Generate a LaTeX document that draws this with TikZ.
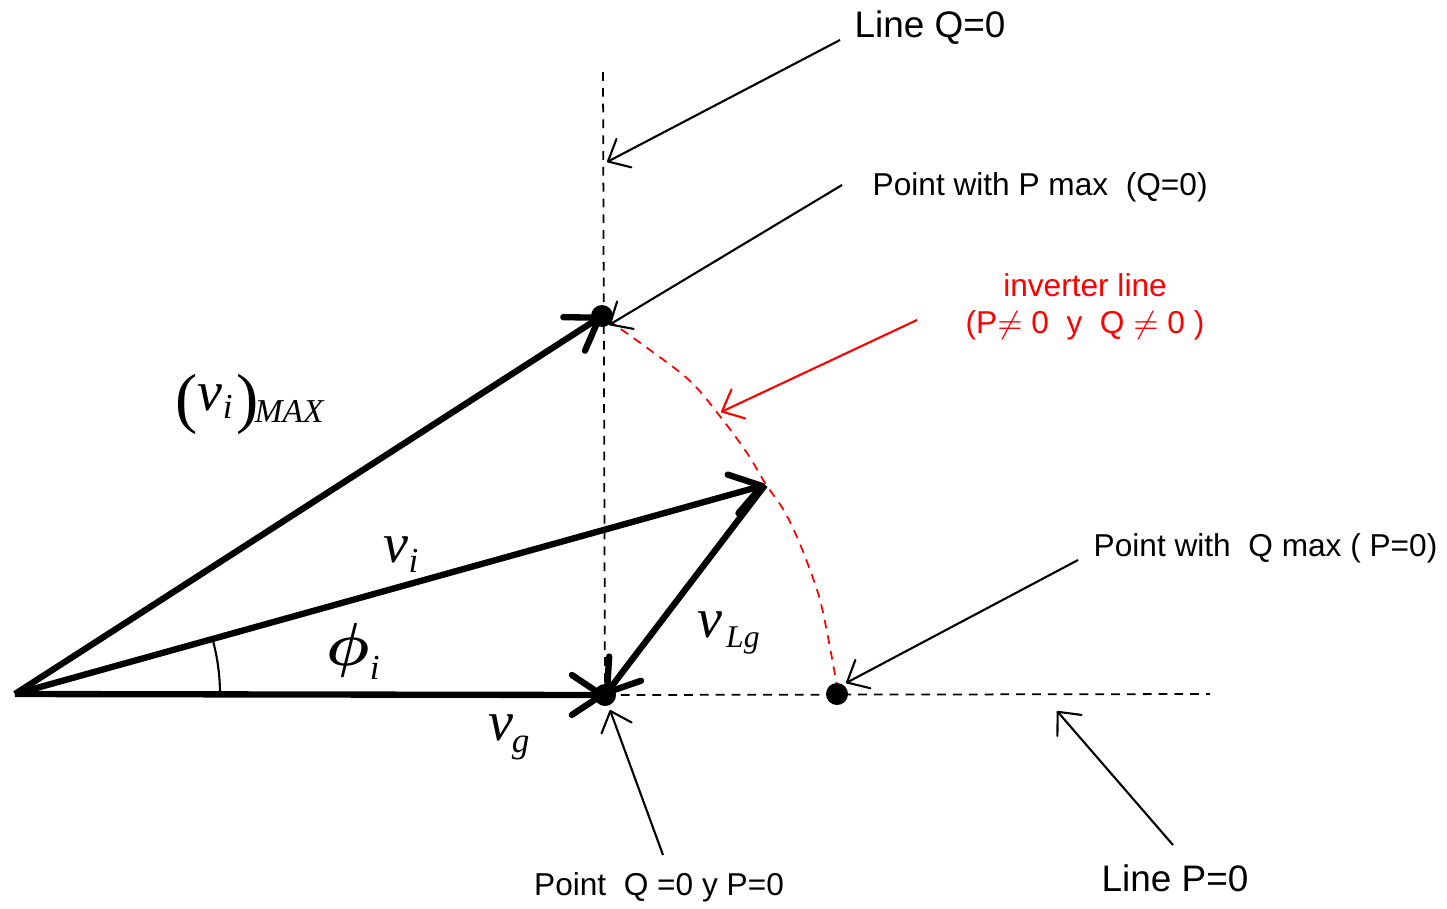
\documentclass[tikz,border=0pt]{standalone}
\usepackage{amsmath}
\usepackage{amssymb}
\usepackage{fontspec}
\setmainfont{Liberation Sans}
\newfontfamily\tms{Liberation Serif}
\usetikzlibrary{arrows.meta,calc}

\newcommand{\lowsub}[3][10]{\raisebox{#2}{\fontsize{#1}{11}\selectfont #3}}

\begin{document}
\begin{tikzpicture}[scale = 1]
	\tikzset{dot/.style = {shape=circle, fill=black, inner sep=0pt, minimum size=0.22cm},
		vec/.style = {line width=1.8pt, -{Straight Barb[length=0.3cm, width=0.4cm, round]}},
		ptr/.style = {line width=0.6pt, -{Straight Barb[length=0.18cm, width=0.32cm, round]}},
		guide/.style = {line width=0.5pt, dash pattern=on 2.5pt off 2pt},
		lbl/.style = {font=\fontsize{9}{11}\selectfont, inner sep=0pt},
		big/.style = {font=\fontsize{10.5}{12}\selectfont, inner sep=0pt},
		sym/.style = {font=\tms\itshape\fontsize{16}{18}\selectfont, inner sep=0pt, anchor=base west}}
	\useasboundingbox (0,0) rectangle (14.47,9.08);
	% main points
	\coordinate (o) at (0.15,2.14);
	\coordinate (g) at (6.05,2.13);
	\coordinate (pm) at (6.02,5.92);
	\coordinate (vi) at (7.65,4.23);
	\coordinate (qm) at (8.37,2.14);
	\coordinate (qtop) at (6.03,8.36);
	\coordinate (pend) at (12.10,2.14);
	% guide lines
	\draw[guide] (qtop) -- (g);
	\draw[guide] (g) -- (pend);
	\draw[guide, red] plot[smooth, tension=0.6] coordinates {(6.08,5.88) (6.50,5.58) (6.90,5.27) (7.19,4.93) (7.47,4.55) (7.65,4.25) (7.83,3.99) (7.97,3.71) (8.10,3.38) (8.20,3.08) (8.28,2.71) (8.37,2.22)};
	% vectors
	\draw[vec] (o) -- (pm);
	\draw[vec] (o) -- (vi);
	\draw[vec] (o) -- (g);
	\draw[vec] (vi) -- (g);
	\draw[line width=0.6pt] (o) ++(2.05,0) arc[start angle=0, end angle=15.6, radius=2.05];
	\foreach \p in {pm, g, qm}{
		\node[dot] (d\p) at (\p) {};
	}
	% vector labels
	\node[sym] (vmax) at (1.75,4.98) {\raisebox{-3pt}{\fontsize{19}{22}\selectfont\upshape(}v\lowsub{-2.5pt}{i}\kern1pt\raisebox{-3pt}{\fontsize{19}{22}\selectfont\upshape)}\kern-1pt\lowsub[9.5]{-3.5pt}{MAX}};
	\node[sym] (vil) at (3.83,3.46) {v\lowsub{-3pt}{i}};
	\node[sym, anchor=center, font=\tms\itshape\fontsize{18}{20}\selectfont] (phil) at (3.53,2.57) {$\boldsymbol{\phi}$\lowsub{-4pt}{i}};
	\node[sym] (vgl) at (4.88,1.68) {v\kern-0.5pt\lowsub{-3.5pt}{g}};
	\node[sym] (vlgl) at (6.97,2.71) {v\kern1pt\lowsub[9]{-3pt}{Lg}};
	% text labels
	\node[big] (lq) at (9.30,8.80) {Line Q=0};
	\node[lbl, anchor=west] (lpmax) at (8.72,7.21) {Point with P max\ \ (Q=0)};
	\node[lbl, red] (linv) at (10.85,6.23) {inverter line};
	\node[lbl, red] (linv2) at (10.85,5.83) {(P$\neq$ 0\ \ y\ \ Q $\neq$ 0 )};
	\node[lbl, anchor=west] (lqmax) at (10.93,3.60) {Point with\ \ Q max ( P=0)};
	\node[big] (lp) at (11.75,0.30) {Line P=0};
	\node[lbl] (lzero) at (6.59,0.21) {Point\ \ Q =0 y P=0};
	% pointers
	\coordinate (a1) at (8.40,8.68);
	\coordinate (a2) at (8.42,7.23);
	\coordinate (a3) at (9.17,5.88);
	\coordinate (a4) at (10.78,3.48);
	\coordinate (a5) at (11.73,0.63);
	\coordinate (a6) at (6.63,0.53);
	\coordinate (b1) at (6.07,7.46);
	\coordinate (b3) at (7.21,4.96);
	\coordinate (b5) at (10.57,1.97);
	\draw[ptr] (a1) -- (b1);
	\draw[ptr] (a2) -- ($(pm)+(0.07,-0.09)$);
	\draw[ptr, red] (a3) -- (b3);
	\draw[ptr] (a4) -- ($(qm)+(0.09,0.11)$);
	\draw[ptr] (a5) -- (b5);
	\draw[ptr] (a6) -- ($(g)+(0.05,-0.15)$);
\end{tikzpicture}
\end{document}
